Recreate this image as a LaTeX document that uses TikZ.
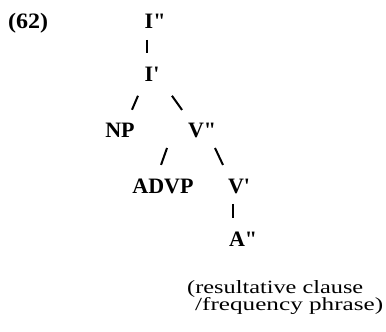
\documentclass[tikz,border=0pt]{standalone}
\usepackage{fontspec}
\setmainfont{Liberation Serif}
\begin{document}
\begin{tikzpicture}[x=1pt,y=-1pt,
  cat/.style={font=\fontsize{22}{22}\selectfont\bfseries, inner sep=0pt, anchor=base},
  note/.style={font=\fontsize{20}{20}\selectfont, inner sep=0pt, anchor=base west},
  branch/.style={line width=2pt}]
\useasboundingbox (0,0) rectangle (386,332);

% example number
\node[cat, anchor=base west] (num) at (8,28) {\resizebox{40pt}{\height}{(62)}};

% tree nodes (primes hang to the right of the category letter)
\node[cat] (Ipp)  at (149,28)  {I\rlap{\textquotedbl}};
\node[cat] (Ip)   at (149,81)  {I\rlap{\textquotesingle}};
\node[cat] (NP)   at (120,137) {NP};
\node[cat] (Vpp)  at (196,137) {V\rlap{\textquotedbl}};
\node[cat] (ADVP) at (163,193) {ADVP};
\node[cat] (Vp)   at (236,193) {V\rlap{\textquotesingle}};
\node[cat] (App)  at (237,246) {A\rlap{\textquotedbl}};

% short typed-style branch strokes
\draw[branch, shorten <=19pt, shorten >=21pt]
  ([xshift=-2pt]Ipp.center) -- ([xshift=-2pt]Ip.center);
\draw[branch, shorten <=23.9pt, shorten >=21.8pt]
  ([xshift=-1.6pt]Ip.center) -- ([xshift=3.4pt]NP.center);
\draw[branch, shorten <=27pt, shorten >=24.6pt]
  ([xshift=7.3pt]Ip.center) -- ([xshift=0.3pt]Vpp.center);
\draw[branch, shorten <=19.1pt, shorten >=22.3pt]
  ([xshift=-22.6pt]Vpp.center) -- ([xshift=-9.4pt]ADVP.center);
\draw[branch, shorten <=19.9pt, shorten >=23.2pt]
  ([xshift=10.5pt]Vpp.center) -- ([xshift=-3.1pt]Vp.center);
\draw[branch, shorten <=18pt, shorten >=21pt]
  ([xshift=-3pt]Vp.center) -- ([xshift=-4pt]App.center);

% gloss under the tree
\node[note] (gl1) at (187,293) {\resizebox{176pt}{13pt}{(resultative clause}};
\node[note] (gl2) at (195,310) {\resizebox{188pt}{13pt}{/frequency phrase)}};
\end{tikzpicture}
\end{document}
